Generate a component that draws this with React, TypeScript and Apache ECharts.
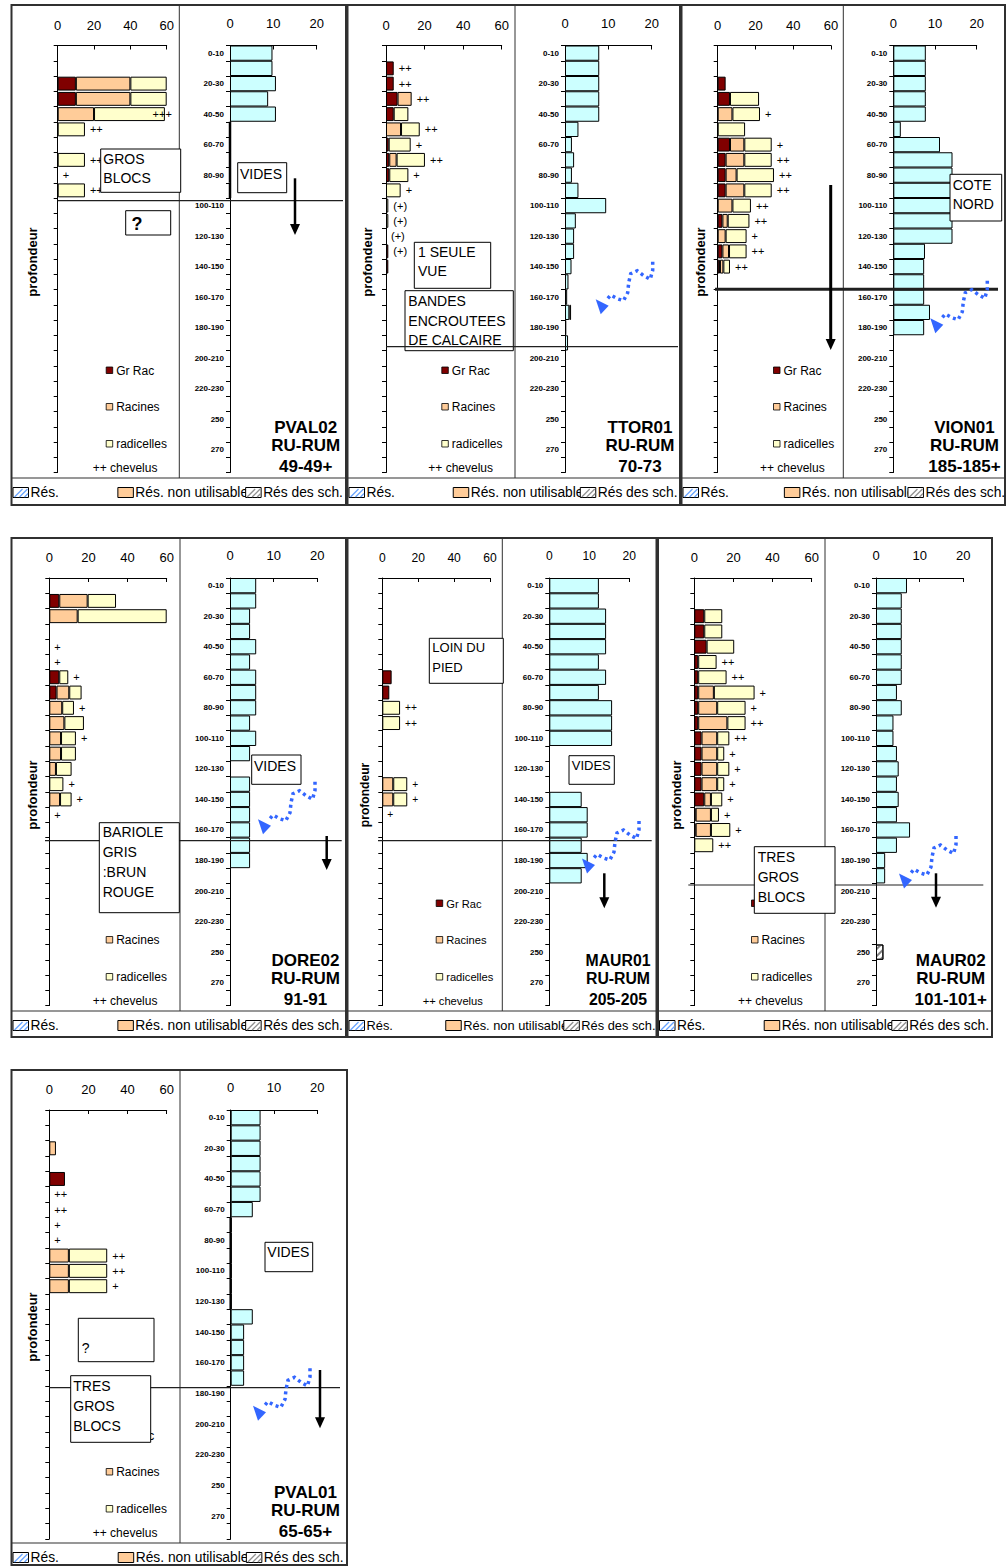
import React, { useEffect, useRef } from 'react';
import * as echarts from 'echarts';

const FONT = '"Liberation Sans", Arial, Helvetica, sans-serif';

const CATS = ['0-10', '10-20', '20-30', '30-40', '40-50', '50-60', '60-70', '70-80', '80-90', '90-100', '100-110', '110-120', '120-130', '130-140', '140-150', '150-160', '160-170', '170-180', '180-190', '190-200', '200-210', '210-220', '220-230', '230-240', '250', '260', '270', '280'];

const BOTTOM_LEGEND = ['Rés.', 'Rés. non utilisable', 'Rés des sch.'];
const ROOT_LEGEND = ['Gr Rac', 'Racines', 'radicelles'];

// ---- PVAL02 ----
const pval02GrRac = [null, null, 10, 10];
const pval02Racines = [null, null, 30, 30, 20];
const pval02Radicelles = [null, null, 20, 20, 39, 15, null, 15, null, 15];
const pval02Chevelus = ['', '', '', '', '+++', '++', '', '++', '+', '++'];
const pval02Res = [9.8, 9.8, 10.6, 8.8, 10.6, 0, 0, 0, 0, 0];
const pval02ResNonUtil: (number | null)[] = [];
const pval02ResSch: (number | null)[] = [];

// ---- TTOR01 ----
const ttor01GrRac = [null, 4, 4, 6, 4, null, 1.4, 1.7, 1.7, null, null, null, null, 1.2, 1.2];
const ttor01Racines = [null, null, null, 7.3, null, 7.8, null, 3.8];
const ttor01Radicelles = [null, null, null, null, 7.6, 9.7, 11.4, 14.7, 9.9, 7.6, 1.2, 1.2];
const ttor01Chevelus = ['', '++', '++', '++', '', '++', '+', '++', '+', '+', '(+)', '(+)', '(+)', '(+)'];
const ttor01Res = [7.9, 7.9, 7.9, 7.9, 7.9, 3.1, 1.6, 2.1, 1.6, 3.1, 9.5, 2.5, 2.1, 2.1, 1.5, 0.8, 0.5, 1.0, 0.3, 0.7];
const ttor01ResNonUtil = [null, null, null, null, null, null, null, null, null, null, null, null, null, null, null, null, null, 0.4];
const ttor01ResSch: (number | null)[] = [];

// ---- VION01 ----
const vion01GrRac = [null, null, 4.2, 6.5, null, null, 6.5, 4.2, 4.2, 4.2, null, 2.5, null, 2.5, 1.2];
const vion01Racines = [null, null, null, null, 7.8, null, 7.6, 9.9, 5.8, 9.9, 7.8, 2.8, 4.2, 3.5, 1.8];
const vion01Radicelles = [null, null, null, 15.4, 14.6, 14.5, 14.5, 14.5, 19.8, 14.5, 9.8, 11.5, 11.1, 9.3, 3.5];
const vion01Chevelus = ['', '', '', '', '+', '', '+', '++', '++', '++', '++', '++', '+', '++', '++'];
const vion01Res = [7.8, 7.8, 7.8, 7.8, 7.8, 1.8, 11.2, 14.2, 14.2, 14.2, 14.2, 14.2, 14.2, 7.6, 7.4, 7.4, 7.4, 8.8, 7.4];
const vion01ResNonUtil: (number | null)[] = [];
const vion01ResSch: (number | null)[] = [];

// ---- DORE02 ----
const dore02GrRac = [null, 5.1, null, null, null, null, 5.1, 3.7];
const dore02Racines = [null, 14.5, 14.5, null, null, null, null, 6.5, 6.6, 7.7, 6, 6, 3.4, null, 5.5];
const dore02Radicelles = [null, 14.5, 45.5, null, null, null, 4.6, 6.3, 6, 10, 7.6, 7.6, 8, 7.2, 5.9];
const dore02Chevelus = ['', '', '', '', '+', '+', '+', '', '+', '', '+', '', '', '+', '+', '+'];
const dore02Res = [6, 6, 4.6, 4.6, 6, 4.6, 6, 6, 6, 4.6, 6, 4.6, null, 4.6, 4.6, 4.6, 4.6, 4.6, 4.6];
const dore02ResNonUtil: (number | null)[] = [];
const dore02ResSch: (number | null)[] = [];

// ---- MAUR01 ----
const maur01GrRac = [null, null, null, null, null, null, 5.2, 3.9];
const maur01Racines = [null, null, null, null, null, null, null, null, null, null, null, null, null, 6.1, 6.1];
const maur01Radicelles = [null, null, null, null, null, null, null, null, 9.9, 9.9, null, null, null, 7.8, 7.8];
const maur01Chevelus = ['', '', '', '', '', '', '', '', '++', '++', '', '', '', '+', '+', '+'];
const maur01Res = [12.4, 12.4, 14.2, 14.2, 14.2, 12.4, 14.2, 12.4, 15.7, 15.7, 15.7, null, null, null, 8.1, 9.6, 9.6, 8.1, 9.6, 8.1];
const maur01ResNonUtil: (number | null)[] = [];
const maur01ResSch: (number | null)[] = [];

// ---- MAUR02 ----
const maur02GrRac = [null, null, 5.1, 5.1, 6.3, 2, 2, 2, 2, 2, 3.7, 3.7, 3.7, 3.7, 5.1, 0.7, 0.7];
const maur02Racines = [null, null, null, null, null, null, null, 8, 9.7, 14.9, 8, 8, 8, 8, 3.4, 7.8, 7.8];
const maur02Radicelles = [null, null, 9.2, 9.2, 14.1, 9.4, 14.5, 20.8, 14.5, 9.3, 6.2, 3.6, 6.2, 3.6, 5.8, 4.1, 9.9, 9.7];
const maur02Chevelus = ['', '', '', '', '', '++', '++', '+', '+', '++', '++', '+', '+', '+', '+', '+', '+', '++'];
const maur02Res = [7.1, 5.9, 5.9, 5.9, 5.9, 5.9, 5.9, 4.8, 5.9, 4, 4, 4.8, 5.2, 4.8, 5.2, 4.8, 7.8, 4.8, 2.1, 2.1];
const maur02ResNonUtil: (number | null)[] = [];
const maur02ResSch = [null, null, null, null, null, null, null, null, null, null, null, null, null, null, null, null, null, null, null, null, null, null, null, null, 1.7];

// ---- PVAL01 ----
const pval01GrRac = [null, null, null, null, 8];
const pval01Racines = [null, null, 3.4, null, null, null, null, null, null, 10, 10, 10];
const pval01Radicelles = [null, null, null, null, null, null, null, null, null, 19.6, 19.6, 19.6];
const pval01Chevelus = ['', '', '', '', '', '++', '++', '+', '+', '++', '++', '+'];
const pval01Res = [6.9, 6.9, 6.9, 6.9, 6.9, 6.9, 5.1, 0, 0, 0, 0, 0, 0, 5.1, 3.1, 3.1, 3.1, 3.1];
const pval01ResNonUtil: (number | null)[] = [];
const pval01ResSch: (number | null)[] = [];

type Box = { r: number[]; lines: string[]; tx: number; ty: number[]; size?: number; bold?: boolean };

const PANELS: any[] = [
  {
    title: ['PVAL02', 'RU-RUM', '49-49+'], titleX: 305.7, frame: [11.5, 5, 346, 505],
    lx: [57.7, 166.7], rx: [230, 316.7], div: 179.3, gTop: 45.5, gH: 427, profX: 32, legX: 106.7, fs: 1, grRacTextHidden: false,
    grRac: pval02GrRac, racines: pval02Racines, radicelles: pval02Radicelles, chev: pval02Chevelus,
    res: pval02Res, resNU: pval02ResNonUtil, resSch: pval02ResSch,
    boxes: [
      { r: [100.7, 149, 180.7, 192.3], lines: ['GROS', 'BLOCS'], tx: 103.3, ty: [159, 178.3] },
      { r: [125.7, 210.7, 170.7, 235], lines: ['?'], tx: 131.5, ty: [223.5], size: 18, bold: true },
      { r: [237.7, 162.7, 286.7, 192.7], lines: ['VIDES'], tx: 240, ty: [174] },
    ],
    hline: { y: 200.7, x1: 57.7, x2: 343, w: 1.2, z: 8 },
    arrow: { x: 295, y1: 178.3, y2: 235, w: 2.5 },
    blue: null,
  },
  {
    title: ['TTOR01', 'RU-RUM', '70-73'], titleX: 640, frame: [347.5, 5, 680, 505],
    lx: [386, 501.7], rx: [565, 651.7], div: 515, gTop: 45.5, gH: 427, profX: 367, legX: 442.3, fs: 1, grRacTextHidden: false,
    grRac: ttor01GrRac, racines: ttor01Racines, radicelles: ttor01Radicelles, chev: ttor01Chevelus,
    res: ttor01Res, resNU: ttor01ResNonUtil, resSch: ttor01ResSch,
    boxes: [
      { r: [414.3, 242.3, 490.7, 288.3], lines: ['1 SEULE', 'VUE'], tx: 418, ty: [252, 271] },
      { r: [405, 290.7, 513.3, 350.7], lines: ['BANDES', 'ENCROUTEES', 'DE CALCAIRE'], tx: 408.3, ty: [301, 320.7, 340] },
    ],
    hline: { y: 346.7, x1: 386, x2: 678, w: 1.2, z: 12 },
    arrow: null,
    blue: [652.7, 261.7],
  },
  {
    title: ['VION01', 'RU-RUM', '185-185+'], titleX: 964.5, frame: [681.5, 5, 1005, 505],
    lx: [717.7, 831], rx: [893.3, 976.7], div: 843.3, gTop: 45.5, gH: 427, profX: 700, legX: 774, fs: 1, grRacTextHidden: false,
    grRac: vion01GrRac, racines: vion01Racines, radicelles: vion01Radicelles, chev: vion01Chevelus,
    res: vion01Res, resNU: vion01ResNonUtil, resSch: vion01ResSch,
    boxes: [
      { r: [950, 174.3, 1001.7, 221], lines: ['COTE', 'NORD'], tx: 952.7, ty: [185, 204.3] },
    ],
    hline: { y: 289.3, x1: 715, x2: 998, w: 3, z: 12 },
    arrow: { x: 830.7, y1: 185, y2: 350, w: 3 },
    blue: [987.3, 280.7],
  },
  {
    title: ['DORE02', 'RU-RUM', '91-91'], titleX: 305.5, frame: [11.5, 538, 346, 1037],
    lx: [49.3, 166.7], rx: [230, 317.3], div: 180, gTop: 578, gH: 427.6, profX: 32, legX: 106.7, fs: 1, grRacTextHidden: true,
    grRac: dore02GrRac, racines: dore02Racines, radicelles: dore02Radicelles, chev: dore02Chevelus,
    res: dore02Res, resNU: dore02ResNonUtil, resSch: dore02ResSch,
    boxes: [
      { r: [251.7, 755, 301, 784.3], lines: ['VIDES'], tx: 254, ty: [766] },
      { r: [99.3, 822.7, 179.3, 912.7], lines: ['BARIOLE', 'GRIS', ':BRUN', 'ROUGE'], tx: 102.7, ty: [831.7, 851.7, 871.7, 891.7] },
    ],
    hline: { y: 840.7, x1: 45, x2: 341.7, w: 1.2, z: 8 },
    arrow: { x: 326.7, y1: 836, y2: 870, w: 2.5 },
    blue: [315, 781.7],
  },
  {
    title: ['MAUR01', 'RU-RUM', '205-205'], titleX: 618, frame: [347.5, 538, 656.5, 1037],
    lx: [382.3, 490], rx: [549.3, 629.3], div: 502.3, gTop: 578, gH: 427.6, profX: 365, legX: 436.7, fs: 0.93, grRacTextHidden: false,
    grRac: maur01GrRac, racines: maur01Racines, radicelles: maur01Radicelles, chev: maur01Chevelus,
    res: maur01Res, resNU: maur01ResNonUtil, resSch: maur01ResSch,
    boxes: [
      { r: [429.3, 638.3, 503.3, 683.3], lines: ['LOIN DU', 'PIED'], tx: 432.3, ty: [647.7, 667.7] },
      { r: [569, 755.7, 614.3, 784.3], lines: ['VIDES'], tx: 571.7, ty: [765.5] },
    ],
    hline: { y: 840.7, x1: 378, x2: 651.7, w: 1.2, z: 8 },
    arrow: { x: 604.3, y1: 873.3, y2: 908.3, w: 2.5 },
    blue: [639, 821],
  },
  {
    title: ['MAUR02', 'RU-RUM', '101-101+'], titleX: 950.7, frame: [658, 538, 992, 1037],
    lx: [694.3, 811.7], rx: [876, 963.3], div: 825, gTop: 578, gH: 427.6, profX: 676, legX: 752, fs: 1, grRacTextHidden: true,
    grRac: maur02GrRac, racines: maur02Racines, radicelles: maur02Radicelles, chev: maur02Chevelus,
    res: maur02Res, resNU: maur02ResNonUtil, resSch: maur02ResSch,
    boxes: [
      { r: [754.3, 846.7, 835, 913.3], lines: ['TRES', 'GROS', 'BLOCS'], tx: 757.7, ty: [856.7, 876.7, 896.7] },
    ],
    hline: { y: 885, x1: 688.3, x2: 983.3, w: 1.2, z: 8 },
    arrow: { x: 936, y1: 873.3, y2: 907.7, w: 2.5 },
    blue: [956, 836],
  },
  {
    title: ['PVAL01', 'RU-RUM', '65-65+'], titleX: 305.5, frame: [11.5, 1070, 347, 1565],
    lx: [49.3, 166.7], rx: [230.7, 317.3], div: 180, gTop: 1110, gH: 429, profX: 32, legX: 106.7, fs: 1, grRacTextHidden: false,
    grRac: pval01GrRac, racines: pval01Racines, radicelles: pval01Radicelles, chev: pval01Chevelus,
    res: pval01Res, resNU: pval01ResNonUtil, resSch: pval01ResSch,
    boxes: [
      { r: [265, 1242.3, 312.7, 1271.7], lines: ['VIDES'], tx: 267.3, ty: [1252] },
      { r: [78.3, 1318.3, 154, 1361.7], lines: ['?'], tx: 81.7, ty: [1348.3] },
      { r: [70.7, 1375.7, 150.7, 1442.3], lines: ['TRES', 'GROS', 'BLOCS'], tx: 73.3, ty: [1386, 1406, 1426] },
    ],
    hline: { y: 1387.7, x1: 49.3, x2: 340, w: 1.2, z: 8 },
    arrow: { x: 320, y1: 1370, y2: 1428.3, w: 2.5 },
    blue: [310, 1368.3],
  },
];

const BLUE_PATH = [[0, 0], [0, 8.5], [-2.5, 17.6], [-9, 14], [-15.5, 9], [-22, 12], [-24, 21], [-25, 31], [-29.2, 39], [-35.5, 37], [-42, 33.3], [-47, 39]];
const BLUE_HEAD = [[-57, 37.5], [-44, 44], [-52, 52.5]];

const pad = (a: any[], n = CATS.length) => {
  const out: any[] = [];
  for (let k = 0; k < n; k++) out.push(a[k] === undefined ? null : a[k]);
  return out;
};

const txt = (x: number, y: number, text: string, o: any = {}) => ({
  type: 'text', x, y, z: o.z ?? 6, silent: true, rotation: o.rot ?? 0,
  style: {
    text, fontSize: o.size ?? 12, fontFamily: FONT, fontWeight: o.bold ? 'bold' : 'normal', fill: o.color ?? '#000',
    align: o.align ?? 'left', verticalAlign: 'middle', textAlign: o.align ?? 'left', textVerticalAlign: 'middle',
  },
});

function buildOption() {
  const grid: any[] = [];
  const xAxis: any[] = [];
  const yAxis: any[] = [];
  const series: any[] = [];
  const graphic: any[] = [];

  PANELS.forEach((p, i) => {
    const gl = grid.length;
    const fs = p.fs;
    grid.push({ left: p.lx[0], top: p.gTop, width: p.lx[1] - p.lx[0], height: p.gH });
    grid.push({ left: p.rx[0], top: p.gTop, width: p.rx[1] - p.rx[0], height: p.gH });

    const xCommon = {
      type: 'value', position: 'top', min: 0,
      axisLine: { show: true, lineStyle: { color: '#000', width: 1 } },
      axisTick: { show: true, inside: true, length: 4, lineStyle: { color: '#000' } },
      splitLine: { show: false },
    };
    xAxis.push({ ...xCommon, gridIndex: gl, max: 60, interval: 20, axisLabel: { fontSize: 13 * fs, color: '#000', fontFamily: FONT, margin: 14 } });
    xAxis.push({ ...xCommon, gridIndex: gl + 1, max: 20, interval: 10, axisLabel: { fontSize: 13 * fs, color: '#000', fontFamily: FONT, margin: 16 } });

    const yCommon = {
      type: 'category', data: CATS, inverse: true,
      axisLine: { show: true, lineStyle: { color: '#000', width: 1 } },
      axisTick: { show: true, interval: 0, length: 4, lineStyle: { color: '#000' } },
      splitLine: { show: false },
    };
    yAxis.push({ ...yCommon, gridIndex: gl, axisLabel: { show: false } });
    yAxis.push({ ...yCommon, gridIndex: gl + 1, axisLabel: { show: true, interval: 1, fontSize: 8, fontWeight: 'bold', color: '#000', fontFamily: FONT, margin: 6 } });

    const lBase = {
      type: 'bar', xAxisIndex: gl, yAxisIndex: gl, stack: 'L' + i, barCategoryGap: '9%',
      silent: true, emphasis: { disabled: true },
    };
    series.push({ ...lBase, name: ROOT_LEGEND[0], data: pad(p.grRac), itemStyle: { color: '#800000', borderColor: '#000', borderWidth: 1 } });
    series.push({ ...lBase, name: ROOT_LEGEND[1], data: pad(p.racines), itemStyle: { color: '#FFCC99', borderColor: '#000', borderWidth: 1 } });
    series.push({ ...lBase, name: ROOT_LEGEND[2], data: pad(p.radicelles), itemStyle: { color: '#FFFFCC', borderColor: '#000', borderWidth: 1 } });

    // chevelus marks: labels placed after the stacked total; kept inside the plot like the spreadsheet does
    const pxPerUnit = (p.lx[1] - p.lx[0]) / 60;
    const labelSize = 11 * fs;
    const chevData = pad(p.chev).map((s: string | null, k: number) => {
      if (!s) return null;
      const total = (p.grRac[k] || 0) + (p.racines[k] || 0) + (p.radicelles[k] || 0);
      const endPx = p.lx[0] + total * pxPerUnit;
      const labelW = s.length * labelSize * 0.58;
      const over = endPx + 5 + labelW - (p.lx[1] + 5);
      return { value: 0, label: { formatter: s, offset: [over > 0 ? -over : 0, 0] } };
    });
    series.push({
      ...lBase, name: 'chevelus', data: chevData,
      itemStyle: { color: 'rgba(0,0,0,0)', borderWidth: 0 },
      label: { show: true, position: 'right', distance: 5, fontSize: labelSize, fontFamily: FONT, color: '#000' },
    });

    const rBase = {
      type: 'bar', xAxisIndex: gl + 1, yAxisIndex: gl + 1, stack: 'R' + i, barCategoryGap: '0%',
      silent: true, emphasis: { disabled: true },
    };
    series.push({
      ...rBase, name: BOTTOM_LEGEND[0],
      data: pad(p.res.map((v: number | null) => (v === 0 ? { value: 0, itemStyle: { borderWidth: 2.5 } } : v))),
      itemStyle: { color: '#CCFFFF', borderColor: '#000', borderWidth: 1 },
    });
    series.push({ ...rBase, name: BOTTOM_LEGEND[1], data: pad(p.resNU), itemStyle: { color: '#FFCC99', borderColor: '#000', borderWidth: 1 } });
    series.push({
      ...rBase, name: BOTTOM_LEGEND[2], data: pad(p.resSch),
      itemStyle: {
        color: '#FFFFFF', borderColor: '#000', borderWidth: 1,
        decal: { symbol: 'rect', symbolSize: 1, color: '#808080', dashArrayX: [1, 0], dashArrayY: [1.5, 3], rotation: -Math.PI / 4 },
      },
    });

    // ---- frame and dividers ----
    const [l, t, r, b] = p.frame;
    graphic.push({ type: 'rect', z: 1, silent: true, shape: { x: l, y: t, width: r - l, height: b - t }, style: { fill: 'none', stroke: '#303030', lineWidth: 2 } });
    graphic.push({ type: 'line', z: 1, silent: true, shape: { x1: l, y1: t + 473, x2: r, y2: t + 473 }, style: { stroke: '#303030', lineWidth: 1.2 } });
    graphic.push({ type: 'line', z: 1, silent: true, shape: { x1: p.div, y1: t, x2: p.div, y2: t + 473 }, style: { stroke: '#303030', lineWidth: 1 } });

    // ---- title ----
    const ty = [422, 440, 461.5];
    p.title.forEach((s: string, k: number) => graphic.push(txt(p.titleX, t + ty[k], s, { size: 17 * fs, bold: true, align: 'center', z: 6 })));

    // ---- profondeur ----
    graphic.push(txt(p.profX, t + 257, 'profondeur', { size: 13 * fs, bold: true, align: 'center', rot: Math.PI / 2, z: 6 }));

    // ---- root legend ----
    const legY = [365.5, 402, 439];
    const legCol = ['#800000', '#FFCC99', '#FFFFCC'];
    ROOT_LEGEND.forEach((n, k) => {
      const cy = t + legY[k];
      graphic.push({ type: 'rect', z: 5, silent: true, shape: { x: p.legX - 0.5, y: cy - 3.5, width: 6.5, height: 6.5 }, style: { fill: legCol[k], stroke: '#000', lineWidth: 0.8 } });
      if (!(k === 0 && p.grRacTextHidden)) graphic.push(txt(p.legX + 9.5, cy, n, { size: 12 * fs, z: 5 }));
    });
    graphic.push(txt(p.legX - 14, t + 462.7, '++ chevelus', { size: 12 * fs, z: 5 }));

    // ---- bottom legend ----
    const w = r - l;
    const by = t + 487.5;
    const ix = [l + 1.5, l + 0.318 * w, l + 0.70 * w];
    BOTTOM_LEGEND.forEach((n, k) => {
      graphic.push(txt(ix[k] + 17.5, by, n, { size: 13.8 * fs, z: 5 }));
    });
    ix.forEach((x, k) => {
      const fill = k === 1 ? '#FFCC99' : '#FFFFFF';
      graphic.push({ type: 'rect', z: 7, silent: true, shape: { x, y: by - 5, width: 15.5, height: 10 }, style: { fill, stroke: '#000', lineWidth: 1 } });
      if (k !== 1) {
        const c = k === 0 ? '#66A3FF' : '#909090';
        [1.5, 6.5, 11.5].forEach((dx) => {
          graphic.push({ type: 'line', z: 8, silent: true, shape: { x1: x + dx, y1: by + 4.5, x2: Math.min(x + dx + 8, x + 15), y2: by + 4.5 - Math.min(8, 15 - dx) }, style: { stroke: c, lineWidth: 1.3 } });
        });
      }
    });

    // ---- annotation boxes ----
    p.boxes.forEach((bx: Box) => {
      const [x1, y1, x2, y2] = bx.r;
      graphic.push({ type: 'rect', z: 10, silent: true, shape: { x: x1, y: y1, width: x2 - x1, height: y2 - y1 }, style: { fill: '#FFFFFF', stroke: '#000', lineWidth: 1 } });
      bx.lines.forEach((s, k) => graphic.push(txt(bx.tx, bx.ty[k], s, { size: (bx.size ?? 14) * fs, bold: bx.bold, z: 11 })));
    });

    // ---- depth line ----
    if (p.hline) {
      const h = p.hline;
      graphic.push({ type: 'line', z: h.z, silent: true, shape: { x1: h.x1, y1: h.y, x2: h.x2, y2: h.y }, style: { stroke: '#202020', lineWidth: h.w } });
    }

    // ---- black arrow ----
    if (p.arrow) {
      const a = p.arrow;
      graphic.push({ type: 'line', z: 13, silent: true, shape: { x1: a.x, y1: a.y1, x2: a.x, y2: a.y2 - 8 }, style: { stroke: '#000', lineWidth: a.w } });
      graphic.push({ type: 'polygon', z: 13, silent: true, shape: { points: [[a.x - 5, a.y2 - 11], [a.x + 5, a.y2 - 11], [a.x, a.y2]] }, style: { fill: '#000' } });
    }

    // ---- blue dotted arrow ----
    if (p.blue) {
      const [bx0, by0] = p.blue;
      graphic.push({ type: 'polyline', z: 13, silent: true, shape: { points: BLUE_PATH.map(([dx, dy]) => [bx0 + dx, by0 + dy]) }, style: { stroke: '#3366FF', lineWidth: 3.5, lineDash: [3, 3.5], fill: null } });
      graphic.push({ type: 'polygon', z: 13, silent: true, shape: { points: BLUE_HEAD.map(([dx, dy]) => [bx0 + dx, by0 + dy]) }, style: { fill: '#3366FF' } });
    }
  });

  return {
    animation: false,
    backgroundColor: '#FFFFFF',
    textStyle: { fontFamily: FONT },
    grid, xAxis, yAxis, series, graphic,
  };
}

export default function App() {
  const ref = useRef<HTMLDivElement>(null);
  useEffect(() => {
    if (!ref.current) return;
    const chart = echarts.init(ref.current, null, { renderer: 'svg' });
    chart.setOption(buildOption() as any);
    return () => chart.dispose();
  }, []);
  return <div ref={ref} style={{ position: 'absolute', left: 0, top: 0, width: 1007, height: 1566, background: '#fff' }} />;
}
